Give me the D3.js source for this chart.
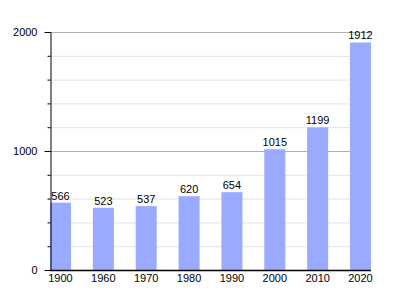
<!DOCTYPE html>
<html>
<head>
<meta charset="utf-8">
<script src="https://cdn.jsdelivr.net/npm/d3@7"></script>
<style>
  body { margin: 0; background: #fff; }
  text { font-family: "Liberation Sans", Arial, sans-serif; fill: #000; }
</style>
</head>
<body>
<svg class="bar-chart" width="400" height="300"></svg>
<script>
const years = ['1900', '1960', '1970', '1980', '1990', '2000', '2010', '2020'];
const population = [566, 523, 537, 620, 654, 1015, 1199, 1912];
const majorTicks = [0, 1000, 2000];
const minorTicks = d3.range(0, 2001, 200);

const svg = d3.select('.bar-chart');
const margin = { left: 50, right: 371, top: 32, bottom: 270 };
const barWidth = 21;

const x = d3.scalePoint().domain(years).range([margin.left, margin.right - barWidth]);
const y = d3.scaleLinear().domain([0, 2000]).range([margin.bottom, margin.top]);

// minor grid lines
svg.append('g')
  .selectAll('line')
  .data(minorTicks.filter(v => v % 1000 !== 0))
  .enter().append('line')
  .attr('x1', margin.left).attr('x2', margin.right)
  .attr('y1', d => y(d) + 0.5).attr('y2', d => y(d) + 0.5)
  .attr('stroke', '#e3e3e3');

// major grid lines
svg.append('g')
  .selectAll('line')
  .data(majorTicks.filter(v => v > 0))
  .enter().append('line')
  .attr('x1', margin.left).attr('x2', margin.right)
  .attr('y1', d => y(d) + 0.5).attr('y2', d => y(d) + 0.5)
  .attr('stroke', '#b0b0b0');

// bars
svg.append('g')
  .selectAll('rect')
  .data(population)
  .enter().append('rect')
  .attr('x', (d, i) => x(years[i]))
  .attr('y', d => y(d))
  .attr('width', barWidth)
  .attr('height', d => y(0) - y(d))
  .attr('fill', '#9aabff');

// value labels
svg.append('g')
  .selectAll('text')
  .data(population)
  .enter().append('text')
  .attr('x', (d, i) => x(years[i]) + barWidth / 2)
  .attr('y', d => y(d) - 3)
  .attr('text-anchor', 'middle')
  .style('font-size', '11px')
  .text(d => d);

// left axis: minor ticks
svg.append('g')
  .attr('transform', `translate(${margin.left + 0.5},0)`)
  .call(d3.axisLeft(y).tickValues(minorTicks).tickSize(3).tickFormat(''))
  .call(g => g.select('.domain').remove());

// left axis: major ticks and labels
svg.append('g')
  .attr('transform', `translate(${margin.left + 0.5},0)`)
  .call(d3.axisLeft(y).tickValues(majorTicks).tickSize(6).tickPadding(7)
    .tickSizeOuter(0).tickFormat(d3.format('d')))
  .call(g => g.selectAll('text').style('font-size', '11px').attr('fill', '#000'))
  .call(g => g.select('.domain').attr('stroke', '#000'));

// bottom axis
svg.append('line')
  .attr('x1', margin.left).attr('x2', margin.right)
  .attr('y1', margin.bottom + 0.5).attr('y2', margin.bottom + 0.5)
  .attr('stroke', '#000')
  .attr('stroke-width', 1.5);

svg.append('g')
  .selectAll('text')
  .data(years)
  .enter().append('text')
  .attr('x', d => x(d) + barWidth / 2)
  .attr('y', margin.bottom + 12)
  .attr('text-anchor', 'middle')
  .style('font-size', '11px')
  .text(d => d);
</script>
</body>
</html>
